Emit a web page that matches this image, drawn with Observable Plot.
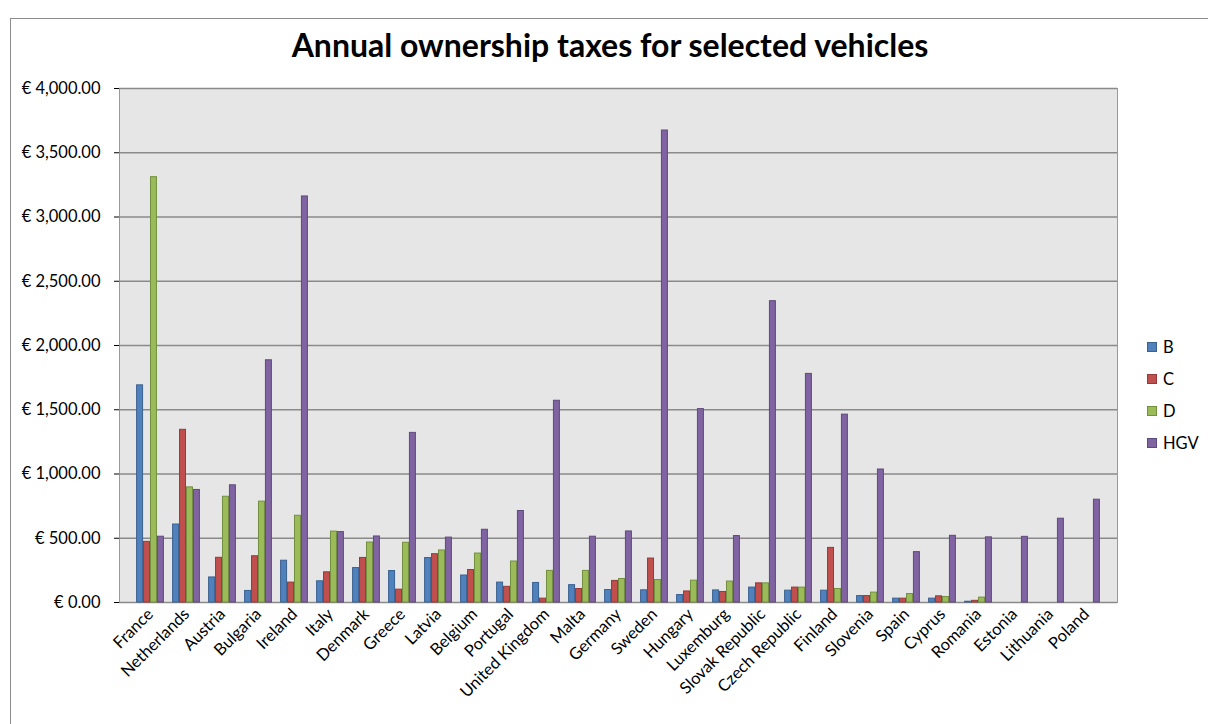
<!DOCTYPE html>
<html>
<head>
<meta charset="utf-8">
<script src="https://cdn.jsdelivr.net/npm/d3@7"></script>
<script src="https://cdn.jsdelivr.net/npm/@observablehq/plot@0.6"></script>
<style>
  body { margin: 0; background: #fff; font-family: Lato, "Open Sans", sans-serif; }
  #wrap { position: relative; width: 1208px; height: 724px; overflow: hidden; }
  #frame { position: absolute; left: 10px; top: 18px; width: 1220px; height: 730px; border-left: 1px solid #8c8c8c; border-top: 1px solid #8c8c8c; }
  #chart { position: absolute; left: 0; top: 0; }
  #title { position: absolute; left: 0; width: 1220px; top: 25px; text-align: center; font-weight: bold; font-size: 32px; line-height: 40px; color: #000; }
  #legend { position: absolute; left: 1147px; top: 331px; font-size: 16.5px; color: #000; }
  .item { display: flex; align-items: center; height: 32px; }
  .sw { width: 8px; height: 8px; margin-right: 6px; border: 1px solid; }
</style>
</head>
<body>
<div id="wrap">
  <div id="frame"></div>
  <div id="chart"></div>
  <div id="title">Annual ownership taxes for selected vehicles</div>
  <div id="legend"></div>
</div>
<script>
const countries = ["France","Netherlands","Austria","Bulgaria","Ireland","Italy","Denmark","Greece","Latvia","Belgium","Portugal","United Kingdom","Malta","Germany","Sweden","Hungary","Luxemburg","Slovak Republic","Czech Republic","Finland","Slovenia","Spain","Cyprus","Romania","Estonia","Lithuania","Poland"];
const seriesB   = [1690, 607, 195,  90, 325, 165, 268, 245, 346, 210, 155, 152, 135,  97,  95,   58,  94,  116,  92,  92,   50,  30,  30,   6, 0, 0, 0];
const seriesC   = [ 472,1344, 348, 360, 155, 235, 347, 100, 376, 253, 122,  30, 105, 168, 342,   86,  82,  149, 116, 425,   50,  30,  48,  13, 0, 0, 0];
const seriesD   = [3310, 896, 823, 785, 675, 552, 467, 465, 405, 381, 319, 246, 246, 183, 175,  170, 163,  149, 116, 105,   77,  66,  43,  38, 0, 0, 0];
const seriesHGV = [ 512, 876, 912,1885,3160, 548, 514,1320, 505, 566, 712,1570, 512, 553,3673, 1505, 517, 2345,1779,1462, 1035, 392, 519, 507, 511, 652, 800];
const seriesNames = ["B", "C", "D", "HGV"];
const seriesFill = ["#4f81bd", "#c0504d", "#9bbb59", "#8064a2"];
const seriesStroke = ["#3a6190", "#943b39", "#73903f", "#5e4a7a"];
const yTicks = [0, 500, 1000, 1500, 2000, 2500, 3000, 3500, 4000];

const allSeries = [seriesB, seriesC, seriesD, seriesHGV];
const rows = countries.flatMap((c, i) => seriesNames.map((s, j) => ({country: c, series: s, value: allSeries[j][i]})));

const W = 1208, H = 724;
const mL = 119, mR = 91, mT = 88, mB = 122;
const band = (W - mL - mR) / countries.length;
const gap = 4.6;
const bw = (band - 2 * gap) / 4;

const fmt = d3.format(",.2f");

const chart = Plot.plot({
  width: W,
  height: H,
  marginLeft: mL,
  marginRight: mR,
  marginTop: mT,
  marginBottom: mB,
  style: { fontFamily: "Lato, 'Open Sans', sans-serif", fontSize: "16.5px", background: "transparent", color: "#000" },
  x: { domain: countries, padding: 0, tickRotate: -45, tickSize: 0, tickPadding: 9, label: null },
  y: { domain: [0, 4000], ticks: yTicks, tickFormat: d => "€ " + fmt(d), tickSize: 5, tickPadding: 14, label: null },
  color: { domain: seriesNames, range: seriesFill },
  marks: [
    Plot.frame({ fill: "#e6e6e6", stroke: "#9a9a9a" }),
    Plot.ruleY(yTicks, { stroke: "#8a8a8a", strokeWidth: 1.6 }),
    ...seriesNames.map((s, j) =>
      Plot.barY(rows.filter(d => d.series === s && d.value > 0), {
        x: "country",
        y: "value",
        fill: "series",
        stroke: seriesStroke[j],
        strokeWidth: 1,
        insetLeft: gap + j * bw,
        insetRight: gap + (3 - j) * bw
      })
    )
  ]
});
document.getElementById("chart").appendChild(chart);

const legend = document.getElementById("legend");
seriesNames.forEach((s, j) => {
  const item = document.createElement("div");
  item.className = "item";
  const sw = document.createElement("span");
  sw.className = "sw";
  sw.style.background = seriesFill[j];
  sw.style.borderColor = seriesStroke[j];
  const lab = document.createElement("span");
  lab.textContent = s;
  item.appendChild(sw);
  item.appendChild(lab);
  legend.appendChild(item);
});
</script>
</body>
</html>
